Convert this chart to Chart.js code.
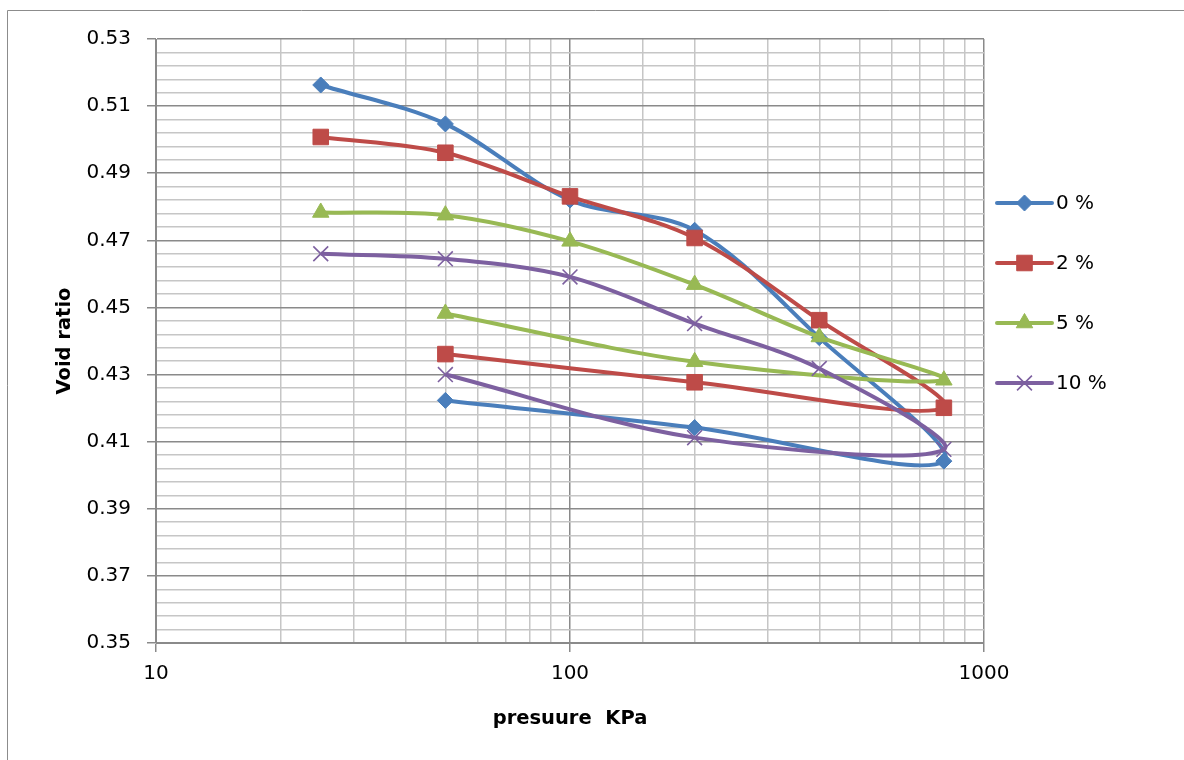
<!DOCTYPE html>
<html>
<head>
<meta charset="utf-8">
<script src="https://cdn.jsdelivr.net/npm/chart.js@4.4.0/dist/chart.umd.min.js"></script>
<style>
  html, body { margin: 0; padding: 0; background: #fff; }
  #wrap { position: relative; width: 1184px; height: 760px; }
</style>
</head>
<body>
<div id="wrap"><canvas id="voidChart" width="1184" height="760"></canvas></div>
<script>
// loading 25 -> 800 kPa, then unloading back to 200 and 50
const pressure = [25, 50, 100, 200, 400, 800, 200, 50];
const void0  = [0.5163, 0.5047, 0.4820, 0.4730, 0.4410, 0.4042, 0.4142, 0.4223];
const void2  = [0.5008, 0.4961, 0.4831, 0.4707, 0.4462, 0.4201, 0.4277, 0.4361];
const void5  = [0.4783, 0.4775, 0.4697, 0.4568, 0.4412, 0.4283, 0.4338, 0.4482];
const void10 = [0.4660, 0.4645, 0.4591, 0.4452, 0.4318, 0.4077, 0.4112, 0.4300];

const seriesNames = ['0 %', '2 %', '5 %', '10 %'];
const seriesColors = ['#4A7EBB', '#BE4B48', '#98B954', '#7D60A0'];
const seriesMarkers = ['rectRot', 'rect', 'triangle', 'crossRot'];
const markerSizes = [8, 11, 9.5, 10.5];

const yLabels = [0.35, 0.37, 0.39, 0.41, 0.43, 0.45, 0.47, 0.49, 0.51, 0.53];
const xLabels = [10, 100, 1000];

const FONT = '"DejaVu Sans", "Liberation Sans", sans-serif';
const MAJOR = '#8a8a8a';
const MINOR = '#c6c6c6';

function isYLabel(v) {
    return yLabels.some(l => Math.abs(l - v) < 1e-6);
}
function isXLabel(v) {
    return xLabels.some(l => Math.abs(l - v) < 1e-6);
}

const allSeries = [void0, void2, void5, void10];
const datasets = allSeries.map((vals, i) => ({
    label: seriesNames[i],
    data: pressure.map((p, j) => ({ x: p, y: vals[j] })),
    showLine: true,
    tension: 0.33,
    borderColor: seriesColors[i],
    backgroundColor: seriesColors[i],
    borderWidth: 4,
    pointStyle: seriesMarkers[i],
    pointRadius: markerSizes[i],
    pointHoverRadius: markerSizes[i],
    pointBorderWidth: i == 3 ? 1.6 : 1,
    order: 3 - i
}));

// outer frame + the excel style legend (line with marker in the middle)
const frameAndLegend = {
    id: 'frameAndLegend',
    beforeDraw(chart) {
        const ctx = chart.ctx;
        ctx.save();
        ctx.fillStyle = '#fff';
        ctx.fillRect(0, 0, chart.width, chart.height);
        ctx.strokeStyle = '#8c8c8c';
        ctx.lineWidth = 1;
        ctx.beginPath();
        ctx.moveTo(7.5, chart.height);
        ctx.lineTo(7.5, 10.5);
        ctx.lineTo(chart.width, 10.5);
        ctx.stroke();
        ctx.restore();
    },
    afterDraw(chart) {
        const ctx = chart.ctx;
        const area = chart.chartArea;
        ctx.save();
        chart.data.datasets.forEach((ds, i) => {
            const x0 = area.right + 13;
            const x1 = x0 + 55;
            const y = area.top + 164 + i * 60;
            ctx.strokeStyle = ds.borderColor;
            ctx.lineWidth = 4;
            ctx.lineCap = 'round';
            ctx.beginPath();
            ctx.moveTo(x0, y);
            ctx.lineTo(x1, y);
            ctx.stroke();
            ctx.lineCap = 'butt';
            ctx.fillStyle = ds.backgroundColor;
            ctx.lineWidth = ds.pointBorderWidth;
            Chart.helpers.drawPoint(ctx, {
                pointStyle: ds.pointStyle,
                radius: ds.pointRadius,
                rotation: 0,
                borderWidth: ds.pointBorderWidth
            }, (x0 + x1) / 2, y);
            ctx.fillStyle = '#000';
            ctx.font = '20px ' + FONT;
            ctx.textBaseline = 'middle';
            ctx.textAlign = 'left';
            ctx.fillText(ds.label, x1 + 4, y + 1);
        });
        ctx.restore();
    }
};

new Chart('voidChart', {
    type: 'scatter',
    data: { datasets: datasets },
    options: {
        responsive: false,
        animation: false,
        devicePixelRatio: 1,
        layout: { padding: { left: 0, top: 39, right: 200, bottom: 0 } },
        plugins: {
            legend: { display: false },
            tooltip: { enabled: false }
        },
        scales: {
            x: {
                type: 'logarithmic',
                min: 10,
                max: 1000,
                afterFit: s => { s.height = 117; },
                border: { color: MAJOR, width: 1 },
                grid: {
                    color: c => isXLabel(c.tick.value) ? MAJOR : MINOR,
                    tickColor: c => isXLabel(c.tick.value) ? MAJOR : 'rgba(0,0,0,0)',
                    lineWidth: 1.5,
                    tickLength: 9
                },
                ticks: {
                    autoSkip: false,
                    maxRotation: 0,
                    padding: 10,
                    color: '#000',
                    font: { family: FONT, size: 20 },
                    callback: v => isXLabel(v) ? String(v) : ''
                },
                title: {
                    display: true,
                    text: 'presuure  KPa',
                    color: '#000',
                    font: { family: FONT, size: 19.5, weight: 'bold' },
                    padding: { top: 0, bottom: 29 }
                }
            },
            y: {
                min: 0.35,
                max: 0.53,
                afterFit: s => { s.width = 156; },
                border: { color: MAJOR, width: 1 },
                grid: {
                    color: c => isYLabel(c.tick.value) ? MAJOR : MINOR,
                    tickColor: c => isYLabel(c.tick.value) ? MAJOR : 'rgba(0,0,0,0)',
                    lineWidth: 1.5,
                    tickLength: 9
                },
                ticks: {
                    stepSize: 0.004,
                    autoSkip: false,
                    padding: 16,
                    color: '#000',
                    font: { family: FONT, size: 20 },
                    callback: v => isYLabel(v) ? v.toFixed(2) : ''
                },
                title: {
                    display: true,
                    text: 'Void ratio',
                    color: '#000',
                    font: { family: FONT, size: 19.5, weight: 'bold' },
                    padding: { top: 53, bottom: 0 }
                }
            }
        }
    },
    plugins: [frameAndLegend]
});
</script>
</body>
</html>
